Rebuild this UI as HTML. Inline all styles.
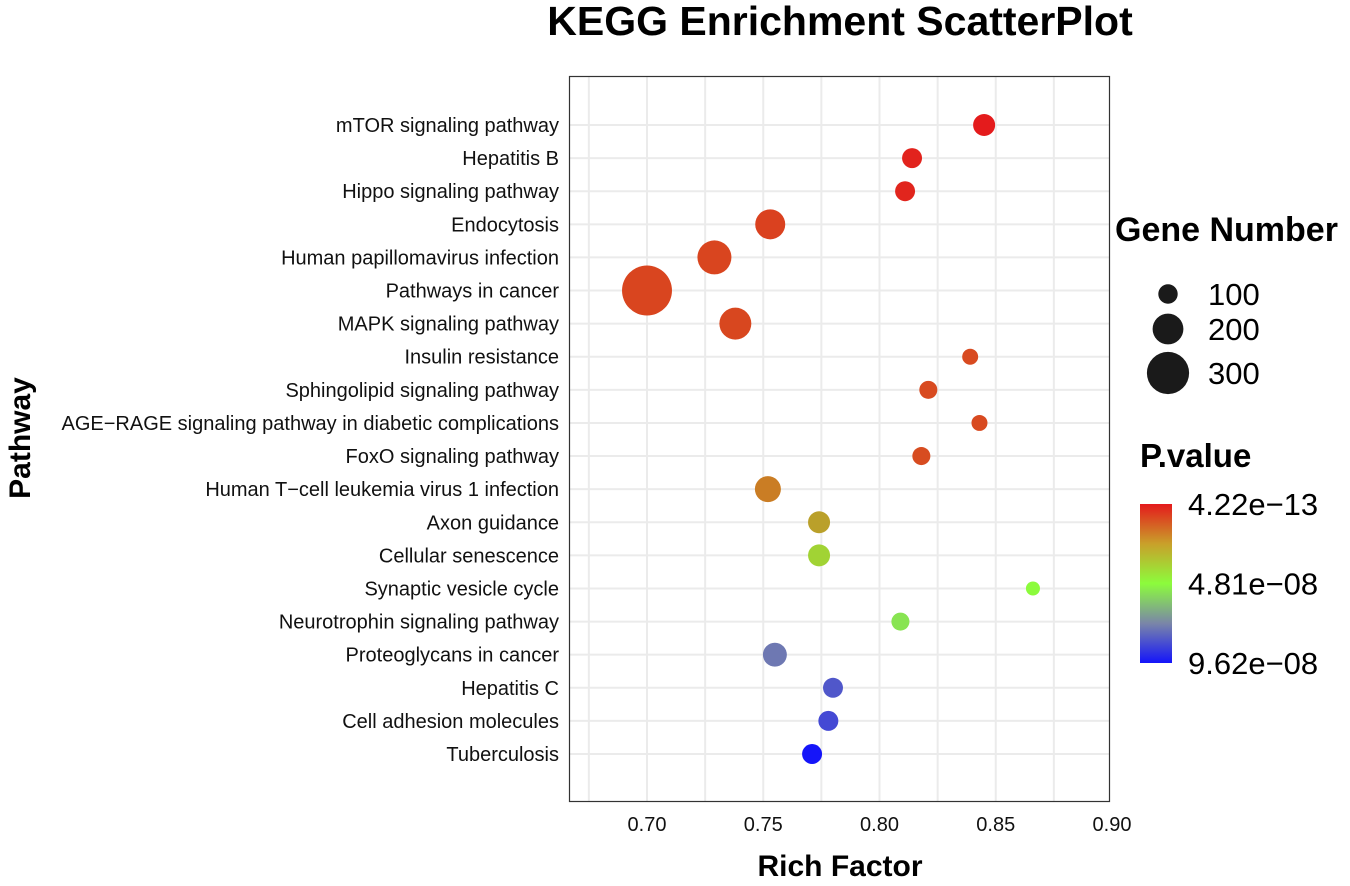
<!DOCTYPE html>
<html><head><meta charset="utf-8"><style>
body{margin:0;background:#fff;font-family:"Liberation Sans",Arial,sans-serif}
</style></head><body>
<svg id="chart" width="1350" height="881" xmlns="http://www.w3.org/2000/svg" font-family="Liberation Sans, Arial, sans-serif">
<defs>
<linearGradient id="pgrad" x1="0" y1="0" x2="0" y2="1">
<stop offset="0" stop-color="#e41a1c"/><stop offset="0.25" stop-color="#c9a02a"/><stop offset="0.5" stop-color="#8cfc3c"/><stop offset="0.75" stop-color="#7a86a8"/><stop offset="1" stop-color="#1414fa"/>
</linearGradient>
</defs>
<text x="840" y="35" text-anchor="middle" font-size="41" font-weight="bold">KEGG Enrichment ScatterPlot</text>
<g id="grid"></g>
<rect x="569.5" y="76.5" width="540" height="725" fill="none" stroke="#333" stroke-width="1.2"/>
<g id="ylabels"></g>
<g id="xlabels"></g>
<g id="points"></g>
<text x="840" y="876" text-anchor="middle" font-size="30" font-weight="bold">Rich Factor</text>
<text transform="translate(30,438) rotate(-90)" text-anchor="middle" font-size="30" font-weight="bold">Pathway</text>
<text x="1115" y="241" font-size="34" font-weight="bold">Gene Number</text>
<g id="sizeleg"></g>
<text x="1140" y="467" font-size="33" font-weight="bold">P.value</text>
<rect x="1140" y="504" width="32" height="159" fill="url(#pgrad)"/>
<g id="colleg"></g>
</svg>
<script>
const pathways=["mTOR signaling pathway","Hepatitis B","Hippo signaling pathway","Endocytosis","Human papillomavirus infection","Pathways in cancer","MAPK signaling pathway","Insulin resistance","Sphingolipid signaling pathway","AGE\u2212RAGE signaling pathway in diabetic complications","FoxO signaling pathway","Human T\u2212cell leukemia virus 1 infection","Axon guidance","Cellular senescence","Synaptic vesicle cycle","Neurotrophin signaling pathway","Proteoglycans in cancer","Hepatitis C","Cell adhesion molecules","Tuberculosis"];
const richFactor=[0.845,0.814,0.811,0.753,0.729,0.700,0.738,0.839,0.821,0.843,0.818,0.752,0.774,0.774,0.866,0.809,0.755,0.780,0.778,0.771];
const geneNumber=[123,105,105,193,228,368,210,70,88,70,88,158,123,123,53,88,140,105,105,105];
const pValue=[0.02e-8,0.2e-8,0.25e-8,0.9e-8,1.0e-8,1.0e-8,1.05e-8,1.1e-8,1.1e-8,1.1e-8,1.15e-8,2.3e-8,3.0e-8,4.0e-8,4.8e-8,5.3e-8,7.5e-8,8.2e-8,8.5e-8,9.6e-8];
const xTicks=[0.70,0.75,0.80,0.85,0.90];
const xTickLabels=["0.70","0.75","0.80","0.85","0.90"];
const sizeLegend=[100,200,300];
const colorLegendLabels=["4.22e\u221213","4.81e\u221208","9.62e\u221208"];
const pMin=4.22e-13,pMax=9.62e-8;
const NS="http://www.w3.org/2000/svg";
function xs(v){return 647+(v-0.70)*2325;}
function ys(i){return 125+i*(754-125)/(pathways.length-1);}
function rs(n){return 4+0.057*n;}
const stops=[[228,26,28],[201,130,36],[140,252,60],[122,134,168],[20,20,250]];
function col(p){let t=(p-pMin)/(pMax-pMin);t=Math.max(0,Math.min(1,t))*4;let i=Math.min(3,Math.floor(t)),f=t-i;const a=stops[i],b=stops[i+1];return `rgb(${a.map((c,k)=>Math.round(c+(b[k]-c)*f)).join(',')})`;}
function mk(tag,attrs,parent){const e=document.createElementNS(NS,tag);for(const k in attrs)e.setAttribute(k,attrs[k]);document.getElementById(parent).appendChild(e);return e;}
for(let v=0.675;v<0.91;v+=0.025){const x=xs(v);if(x<570||x>1109)continue;
const l=mk('line',{x1:x,x2:x,y1:77,y2:801,stroke:'#ebebeb','stroke-width':Math.abs((v*40)%1)<0.01?2:1},'grid');

}
pathways.forEach((p,i)=>{const y=ys(i);
const l=mk('line',{x1:570,x2:1109,y1:y,y2:y,stroke:'#ebebeb','stroke-width':2},'grid');


const t=mk('text',{x:559,y:y+7,'text-anchor':'end','font-size':20,fill:'#111'},'ylabels');t.textContent=p;

});
xTicks.forEach((v,i)=>{const t=mk('text',{x:xs(v),y:831,'text-anchor':'middle','font-size':20,fill:'#111'},'xlabels');t.textContent=xTickLabels[i];

});
pathways.forEach((p,i)=>{const c=mk('circle',{cx:xs(richFactor[i]),cy:ys(i),r:rs(geneNumber[i]),fill:col(pValue[i])},'points');

});
const ly=[294,329,373];
sizeLegend.forEach((n,i)=>{const c=mk('circle',{cx:1168,cy:ly[i],r:rs(n),fill:'#1a1a1a'},'sizeleg');


const t=mk('text',{x:1208,y:ly[i]+11,'font-size':31},'sizeleg');t.textContent=n;

});
const cy=[504,583.5,663];
colorLegendLabels.forEach((s,i)=>{const t=mk('text',{x:1188,y:cy[i]+11,'font-size':31},'colleg');t.textContent=s;

});
</script>
</body></html>
